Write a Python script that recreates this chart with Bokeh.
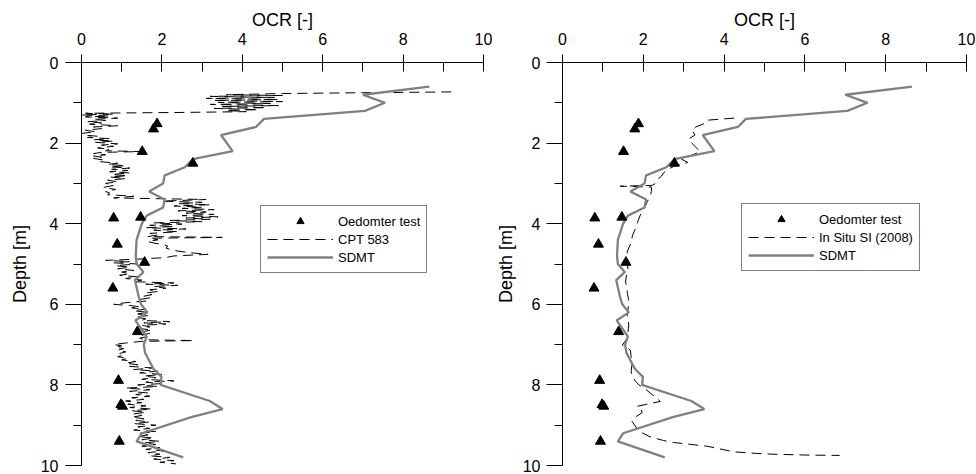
from bokeh.plotting import figure
from bokeh.models import Range1d, FixedTicker, Legend, LegendItem
from bokeh.layouts import row
from bokeh.embed import file_html
from bokeh.resources import INLINE

FONT = "Liberation Sans"

# ---------------- data ----------------
x_ticks = [0, 2, 4, 6, 8, 10]
x_minor = [1, 3, 5, 7, 9]
y_ticks = [0, 2, 4, 6, 8, 10]
y_minor = [1, 3, 5, 7, 9]

oed_ocr = [1.88, 1.79, 1.51, 2.77, 0.80, 1.47, 0.89, 1.57, 0.78, 1.39, 0.92, 0.98, 1.02, 0.94]
oed_depth = [1.52, 1.65, 2.21, 2.50, 3.86, 3.84, 4.51, 4.96, 5.60, 6.68, 7.89, 8.49, 8.53, 9.40]

sdmt_depth = [0.6, 0.8, 1.0, 1.2, 1.4, 1.6, 1.8, 2.2, 2.4, 2.6, 2.8, 3.0, 3.2, 3.4, 3.6, 3.8,
              4.0, 4.4, 4.8, 5.0, 5.2, 5.4, 5.8, 6.0, 6.2, 6.4, 6.6, 6.8, 7.0, 7.2, 7.6, 7.8,
              8.0, 8.4, 8.6, 8.8, 9.2, 9.4, 9.8]
sdmt_ocr = [8.65, 7.00, 7.55, 7.05, 4.54, 4.34, 3.47, 3.76, 2.77, 2.57, 2.07, 2.03, 1.68, 2.07,
            2.03, 1.62, 1.50, 1.37, 1.35, 1.37, 1.54, 1.33, 1.42, 1.48, 1.64, 1.34, 1.48, 1.62,
            1.55, 1.58, 1.79, 1.99, 1.97, 3.19, 3.51, 2.73, 1.50, 1.37, 2.53]

cpt_depth = [0.73, 0.75, 0.77, 0.80, 0.82, 0.84, 0.87, 0.89, 0.92, 0.94, 0.97, 0.99, 1.02, 1.04,
             1.07, 1.09, 1.12, 1.14, 1.17, 1.19, 1.22, 1.24, 1.26, 1.28, 1.30, 1.33, 1.35, 1.38,
             1.41, 1.44, 1.47, 1.50, 1.53, 1.57, 1.60, 1.64, 1.68, 1.72, 1.76, 1.80, 1.83, 1.86,
             1.89, 1.92, 1.95, 1.98, 2.02, 2.05, 2.08, 2.12, 2.15, 2.19, 2.21, 2.23, 2.26, 2.29,
             2.32, 2.35, 2.38, 2.42, 2.46, 2.50, 2.53, 2.56, 2.59, 2.62, 2.65, 2.68, 2.71, 2.74,
             2.78, 2.81, 2.84, 2.88, 2.92, 2.96, 3.00, 3.05, 3.10, 3.15, 3.20, 3.24, 3.28, 3.32,
             3.36, 3.40, 3.44, 3.47, 3.50, 3.53, 3.56, 3.59, 3.62, 3.65, 3.68, 3.71, 3.74, 3.77,
             3.80, 3.83, 3.86, 3.89, 3.92, 3.95, 3.98, 4.01, 4.04, 4.07, 4.10, 4.13, 4.16, 4.20,
             4.24, 4.28, 4.32, 4.34, 4.36, 4.40, 4.44, 4.48, 4.52, 4.56, 4.60, 4.64, 4.68, 4.72,
             4.76, 4.80, 4.84, 4.88, 4.91, 4.94, 4.97, 5.00, 5.04, 5.08, 5.12, 5.16, 5.20, 5.24,
             5.28, 5.32, 5.36, 5.40, 5.44, 5.47, 5.50, 5.53, 5.56, 5.60, 5.64, 5.68, 5.72, 5.76,
             5.80, 5.84, 5.88, 5.92, 5.96, 6.00, 6.03, 6.06, 6.09, 6.12, 6.16, 6.20, 6.24, 6.28,
             6.32, 6.36, 6.40, 6.43, 6.46, 6.49, 6.52, 6.56, 6.60, 6.64, 6.68, 6.72, 6.76, 6.80,
             6.84, 6.88, 6.90, 6.92, 6.96, 7.00, 7.03, 7.06, 7.10, 7.14, 7.18, 7.22, 7.26, 7.30,
             7.34, 7.38, 7.42, 7.46, 7.50, 7.54, 7.58, 7.62, 7.66, 7.70, 7.74, 7.78, 7.82, 7.86,
             7.90, 7.93, 7.97, 8.00, 8.04, 8.08, 8.12, 8.16, 8.20, 8.24, 8.28, 8.32, 8.36, 8.40,
             8.44, 8.48, 8.52, 8.56, 8.60, 8.64, 8.68, 8.72, 8.76, 8.80, 8.84, 8.88, 8.92, 8.96,
             9.00, 9.04, 9.08, 9.12, 9.16, 9.20, 9.24, 9.28, 9.32, 9.36, 9.40, 9.44, 9.48, 9.52,
             9.56, 9.60, 9.64, 9.68, 9.72, 9.76, 9.80, 9.84, 9.88, 9.92, 9.96]
cpt_ocr = [9.20, 7.00, 5.00, 3.60, 5.00, 3.20, 4.80, 3.10, 4.90, 3.30, 5.00, 3.40, 4.70, 3.20,
           4.90, 3.50, 4.60, 3.30, 4.40, 3.60, 4.10, 2.40, 0.10, 0.80, 0.00, 0.70, 0.10, 0.90,
           0.30, 0.60, 0.15, 0.50, 0.20, 0.90, 0.30, 0.50, 0.10, 0.35, 0.00, 0.05, 0.40, 0.15,
           0.70, 0.30, 0.80, 0.35, 0.90, 0.50, 0.80, 0.40, 0.70, 0.60, 1.50, 0.50, 0.30, 0.60,
           0.30, 0.50, 0.30, 0.55, 0.45, 0.90, 0.65, 1.10, 0.70, 1.20, 0.75, 1.15, 0.70, 1.20,
           0.75, 1.15, 0.70, 1.10, 0.65, 0.90, 0.60, 0.80, 0.55, 0.85, 0.60, 0.70, 0.65, 1.30,
           0.80, 3.10, 2.00, 3.00, 2.40, 3.20, 2.30, 3.00, 2.50, 3.30, 2.40, 3.10, 2.60, 3.30,
           2.50, 3.40, 2.60, 3.20, 2.20, 3.00, 1.80, 2.50, 1.70, 2.30, 1.60, 2.60, 1.80, 2.40,
           1.70, 1.90, 1.65, 3.50, 1.70, 1.90, 1.65, 1.80, 2.05, 2.15, 2.10, 2.20, 2.40, 2.70,
           3.15, 2.30, 2.10, 1.40, 0.60, 1.20, 0.80, 1.40, 0.85, 1.20, 0.90, 1.30, 1.00, 1.20,
           0.95, 1.40, 1.10, 1.50, 1.30, 2.30, 1.60, 2.40, 1.80, 2.10, 1.70, 1.90, 1.60, 1.75,
           1.55, 1.70, 1.45, 1.60, 1.10, 0.80, 1.20, 1.45, 1.25, 1.60, 1.30, 1.65, 1.40, 1.65,
           1.35, 1.60, 1.50, 2.20, 1.55, 2.10, 1.50, 1.70, 1.45, 1.75, 1.50, 1.70, 1.50, 1.65,
           1.45, 1.55, 2.80, 1.50, 1.10, 0.80, 1.00, 0.85, 1.05, 0.90, 1.10, 0.95, 1.05, 0.90,
           1.15, 1.00, 1.35, 1.10, 1.40, 1.20, 1.75, 1.30, 1.90, 1.45, 2.00, 1.55, 1.85, 1.50,
           2.30, 1.60, 1.95, 1.40, 1.90, 1.10, 1.70, 1.20, 1.65, 1.35, 1.70, 1.25, 1.55, 1.10,
           1.50, 1.15, 1.60, 1.20, 1.75, 1.25, 1.60, 1.30, 1.50, 1.25, 1.55, 1.35, 1.70, 1.30,
           1.85, 1.40, 1.70, 1.30, 1.85, 1.45, 1.65, 1.40, 1.80, 1.50, 1.95, 1.55, 1.85, 1.50,
           1.95, 1.60, 2.05, 1.65, 1.95, 1.70, 2.20, 1.80, 2.30, 1.95, 2.35]

si_depth = [1.38, 1.43, 1.50, 1.60, 1.67, 1.80, 1.90, 2.00, 2.10, 2.21, 2.30, 2.40, 2.48, 2.58,
            2.66, 2.74, 2.82, 2.91, 3.00, 3.05, 3.07, 3.09, 3.20, 3.32, 3.45, 3.56, 3.69, 3.80,
            3.93, 4.05, 4.18, 4.30, 4.47, 4.60, 4.71, 4.90, 5.00, 5.16, 5.30, 5.45, 5.58, 5.70,
            5.85, 5.99, 6.12, 6.27, 6.40, 6.52, 6.68, 6.85, 7.01, 7.07, 7.14, 7.30, 7.50, 7.65,
            7.79, 7.90, 8.00, 8.10, 8.20, 8.30, 8.41, 8.47, 8.53, 8.60, 8.69, 8.80, 8.90, 9.02,
            9.15, 9.29, 9.38, 9.43, 9.52, 9.60, 9.66, 9.70, 9.72, 9.74, 9.75]
si_ocr = [4.25, 3.60, 3.55, 3.30, 3.20, 3.28, 3.12, 3.20, 3.30, 3.41, 3.20, 2.95, 3.10, 2.75,
          2.60, 2.50, 2.45, 2.34, 2.30, 2.22, 1.43, 2.20, 2.20, 2.17, 2.10, 2.05, 1.97, 1.92,
          1.87, 1.84, 1.78, 1.73, 1.70, 1.64, 1.60, 1.62, 1.60, 1.63, 1.58, 1.56, 1.60, 1.60,
          1.63, 1.64, 1.62, 1.60, 1.63, 1.64, 1.62, 1.60, 1.48, 1.60, 1.68, 1.70, 1.72, 1.70,
          1.72, 1.80, 1.89, 2.05, 2.17, 2.30, 2.42, 2.14, 1.85, 1.95, 1.97, 1.80, 1.72, 1.80,
          1.89, 2.17, 2.50, 2.75, 3.57, 3.95, 4.23, 4.80, 5.21, 6.00, 6.86]


def make_panel(dash_label, dash_x, dash_y, width, border_left, border_right,
               ytitle_standoff, ylabel_standoff, legend_loc):
    p = figure(width=width, height=473, output_backend="svg", toolbar_location=None,
               x_range=Range1d(0, 10), y_range=Range1d(10, 0), x_axis_location="above",
               min_border_left=border_left, min_border_right=border_right,
               min_border_top=62, min_border_bottom=8)
    p.outline_line_color = None
    p.grid.visible = False
    p.background_fill_color = "white"
    p.border_fill_color = "white"

    xa = p.xaxis[0]
    xa.ticker = FixedTicker(ticks=x_ticks, minor_ticks=x_minor)
    xa.axis_label = "OCR [-]"
    xa.major_tick_out = 8
    xa.major_tick_in = 9
    xa.minor_tick_out = 0
    xa.minor_tick_in = 9
    xa.major_label_standoff = 10
    xa.axis_label_standoff = 0

    ya = p.yaxis[0]
    ya.ticker = FixedTicker(ticks=y_ticks, minor_ticks=y_minor)
    ya.axis_label = "Depth [m]"
    ya.major_tick_out = 16
    ya.major_tick_in = 0
    ya.minor_tick_out = 8
    ya.minor_tick_in = 0
    ya.major_label_standoff = ylabel_standoff
    ya.axis_label_standoff = ytitle_standoff

    for ax in (xa, ya):
        ax.axis_line_color = "black"
        ax.major_tick_line_color = "black"
        ax.minor_tick_line_color = "black"
        ax.major_label_text_font = FONT
        ax.major_label_text_font_size = "16px"
        ax.major_label_text_color = "black"
        ax.axis_label_text_font = FONT
        ax.axis_label_text_font_size = "18px"
        ax.axis_label_text_font_style = "normal"
        ax.axis_label_text_color = "black"

    r_dash = p.line(dash_x, dash_y, line_color="black", line_width=1, line_dash="10 6")
    r_sdmt = p.line(sdmt_ocr, sdmt_depth, line_color="#808080", line_width=2.3)
    r_oed = p.scatter(oed_ocr, oed_depth, marker="triangle", size=10,
                      fill_color="black", line_color="black")

    legend = Legend(items=[LegendItem(label="Oedomter test", renderers=[r_oed]),
                           LegendItem(label=dash_label, renderers=[r_dash]),
                           LegendItem(label="SDMT", renderers=[r_sdmt])],
                    location=legend_loc)
    legend.border_line_color = "black"
    legend.border_line_width = 1
    legend.background_fill_color = "white"
    legend.background_fill_alpha = 1
    legend.padding = 6
    legend.spacing = 0
    legend.margin = 0
    legend.label_standoff = 5
    legend.glyph_width = 66
    legend.glyph_height = 18
    legend.label_height = 18
    legend.label_text_font = FONT
    legend.label_text_font_size = "13px"
    legend.label_text_color = "black"
    p.add_layout(legend)
    return p


p1 = make_panel("CPT 583", cpt_ocr, cpt_depth, 492, 81, 9, 8, 7, (179, 192))
p2 = make_panel("In Situ SI (2008)", si_ocr, si_depth, 483, 68, 9, 4, 6, (179, 194))

layout = row(p1, p2)
open("out.html", "w").write(file_html(layout, INLINE))
